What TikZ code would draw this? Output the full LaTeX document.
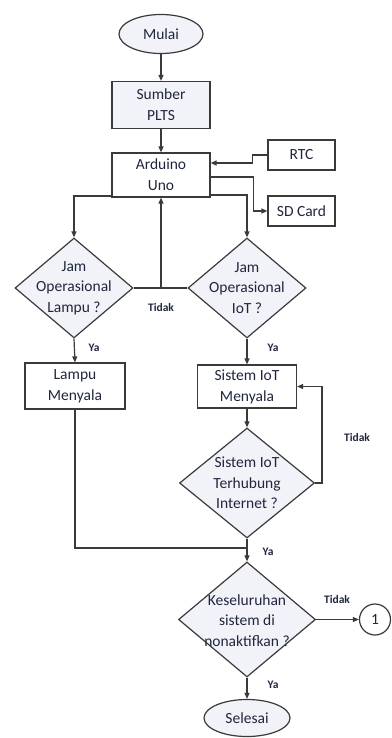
\documentclass[tikz,border=0pt]{standalone}
\usepackage{fontspec}
\setmainfont{Carlito}
\usetikzlibrary{shapes.geometric,arrows.meta,calc}
\definecolor{ink}{HTML}{20263E}
\definecolor{edge}{HTML}{3A3A3A}
\definecolor{tint}{HTML}{F1F3F8}
\tikzset{
  base/.style={draw=edge, line width=1.2pt, text=ink, font=\fontsize{15.5}{21}\selectfont, align=center, inner sep=0pt},
  term/.style={base, ellipse, fill=tint},
  procbox/.style={base, rectangle, fill=white},
  decision/.style={base, diamond, fill=tint},
  dtext/.style={text=ink, font=\fontsize{15.5}{20.5}\selectfont, align=center, inner sep=0pt},
  lbl/.style={text=ink, font=\bfseries\fontsize{11.5}{13}\selectfont, inner sep=0pt},
  conn/.style={draw=edge, line width=1.2pt},
  arr/.style={conn, -{Triangle[length=6pt,width=5pt]}}
}
\begin{document}
\begin{tikzpicture}[x=1pt,y=-1pt]
\useasboundingbox (0,0) rectangle (391,738);

% terminals and process boxes
\node[term, minimum width=84pt, minimum height=39pt] (mulai) at (161,34) {Mulai};
\node[procbox, fill=tint, minimum width=98pt, minimum height=47pt] (sumber) at (161,105) {Sumber\\PLTS};
\node[procbox, minimum width=98pt, minimum height=44pt] (arduino) at (161,175) {Arduino\\Uno};
\node[procbox, minimum width=67pt, minimum height=30pt] (rtc) at (301.5,155) {RTC};
\node[procbox, minimum width=67pt, minimum height=30pt] (sd) at (301.5,211) {SD Card};

% decisions (text placed separately so the diamonds keep their size)
\node[decision, minimum width=118pt, minimum height=100pt] (d1) at (74,288) {};
\node[dtext] (d1t) at (d1) {Jam\\Operasional\\Lampu ?};
\node[decision, minimum width=118pt, minimum height=100pt] (d2) at (247,288) {};
\node[dtext] (d2t) at (d2) {Jam\\Operasional\\IoT ?};

\node[procbox, minimum width=100pt, minimum height=46pt] (lampu) at (75,386) {Lampu\\Menyala};
\node[procbox, minimum width=99pt, minimum height=43pt] (iot) at (247,386.5) {Sistem IoT\\Menyala};

\node[decision, minimum width=135pt, minimum height=110pt] (d3) at (247,483) {};
\node[dtext] (d3t) at (d3) {Sistem IoT\\Terhubung\\Internet ?};
\node[decision, minimum width=137pt, minimum height=115pt] (d4) at (247,619.5) {};
\node[dtext] (d4t) at ([yshift=-1pt]d4) {Keseluruhan\\sistem di\\nonaktifkan ?};

\node[term, minimum width=86pt, minimum height=37pt] (selesai) at (247,718) {Selesai};
\node[base, circle, fill=white, minimum size=31pt] (c1) at (375,619.5) {1};

% junction points
\coordinate (j1) at (arduino.south |- d1.east);
\coordinate (j2) at (d3.south |- 0,548);

% main flow
\draw[arr] (mulai) -- (sumber);
\draw[arr] (sumber) -- (arduino);
\draw[arr] (rtc.west) -- ++(-15,0) |- ([yshift=12pt]arduino.east);
\draw[arr] ([yshift=-2pt]arduino.east) -- ++(43,0) |- (sd.west);
\draw[arr] ([yshift=-20pt]arduino.east) -| (d2.north);
\draw[arr] ([yshift=-21pt]arduino.west) -| (d1.north);

% "Tidak" from both time checks returns to the controller
\draw[conn] (d1.east) -- (d2.west);
\draw[arr] (j1) -- (arduino.south);
\node[lbl] (t1) at (161,308) {Tidak};

\draw[arr] (d1.south) -- (lampu.north);
\node[lbl] (y1) at (94,348) {Ya};
\draw[arr] (d2.south) -- (iot.north);
\node[lbl] (y2) at (273,348) {Ya};

\draw[arr] (iot.south) -- (d3.north);
\draw[arr] (d3.east) -- (322,483) |- (iot.east);
\node[lbl] (t2) at (357,438) {Tidak};

\draw[conn] (lampu.south) |- (j2);
\draw[arr] (d3.south) -- (d4.north);
\node[lbl] (y3) at (268,552) {Ya};

\draw[arr] (d4.east) -- (c1.west);
\node[lbl] (t3) at (337,600) {Tidak};
\draw[arr] (d4.south) -- (selesai.north);
\node[lbl] (y4) at (273,685) {Ya};
\end{tikzpicture}
\end{document}
